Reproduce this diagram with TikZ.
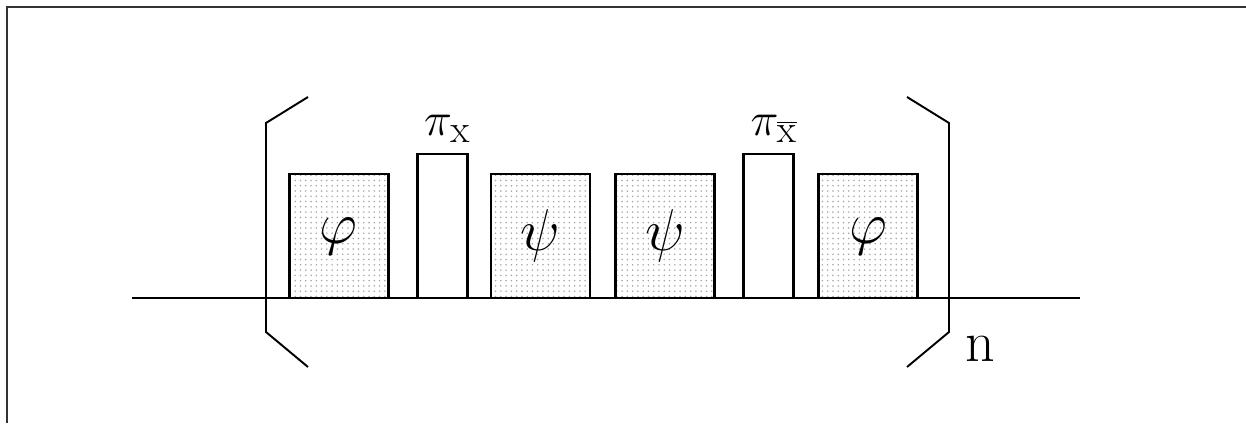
\documentclass[tikz,border=0pt]{standalone}
\usetikzlibrary{positioning, patterns}
\newcommand{\pulsesym}[1]{\scalebox{1.35}{$#1$}}
\newcommand{\labsym}[1]{\scalebox{1.08}{$#1$}}

\begin{document}
\begin{tikzpicture}[
		every node/.style={font=\Huge},
		pulse/.style={draw, line width=1.6pt, minimum width=19.8mm, minimum height=24.8mm, inner sep=0, pattern=dots, pattern color=gray!70},
		hard/.style={draw, line width=1.6pt, fill=white, minimum width=10mm, minimum height=28.8mm, inner sep=0},
		bracket/.style={line width=1.1pt},
		lbl/.style={inner sep=0}
	]
	\useasboundingbox (0,0) rectangle (24.92,8.46);
	\draw[line width=0.9pt, black!80] (0.14,0) -- (0.14,8.32) -- (24.92,8.32);

	\coordinate (start) at (2.64,2.5);
	\coordinate (stop) at (21.6,2.5);
	\draw[line width=1.6pt] (start) -- (stop);

	\node (phi1) [pulse, anchor=south west] at (5.76,2.47) {\pulsesym{\varphi}};
	\node (pix) [hard, right=5.2mm of phi1.south east, anchor=south west] {};
	\node (psi1) [pulse, right=4.2mm of pix.south east, anchor=south west] {\pulsesym{\psi}};
	\node (psi2) [pulse, right=4.6mm of psi1.south east, anchor=south west] {\pulsesym{\psi}};
	\node (pixbar) [hard, right=5.2mm of psi2.south east, anchor=south west] {};
	\node (phi2) [pulse, right=4.4mm of pixbar.south east, anchor=south west] {\pulsesym{\varphi}};

	\node (labx) [lbl, above=2mm of pix.north, anchor=south, xshift=1mm] {\labsym{\pi_{\mathrm{x}}}};
	\node (labxbar) [lbl, above=2mm of pixbar.north, anchor=south, xshift=1mm] {\labsym{\pi_{\overline{\mathrm{x}}}}};

	% brackets round the cycle
	\draw[bracket] (6.16,6.52) -- (5.32,6.0) -- (5.32,1.82) -- (6.16,1.12);
	\draw[bracket] (18.14,6.52) -- (18.98,6.0) -- (18.98,1.82) coordinate (corner) -- (18.14,1.12);

	\node (rep) [right=2mm of corner, anchor=west, yshift=-3.4mm, font=\fontsize{33}{40}\selectfont] {n};
\end{tikzpicture}
\end{document}
